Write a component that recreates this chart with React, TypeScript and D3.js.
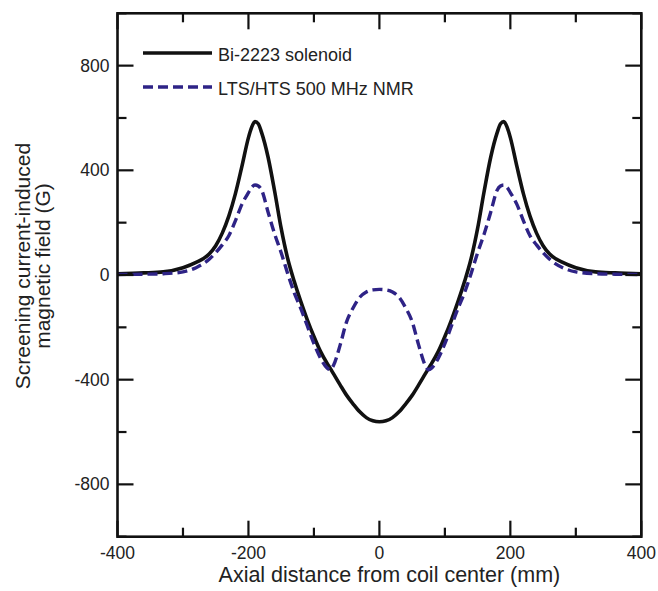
import React from 'react';
import * as d3 from 'd3';

// axial positions (mm) shared by both curves
const axialPositions = [
  -400, -360, -330, -300, -280, -260, -250, -240, -230, -220, -210, -200, -195, -190, -185, -180, -170,
  -160, -150, -140, -130, -120, -110, -100, -90, -80, -75, -70, -60, -50, -40, -30, -20, -10,
  0,
  10, 20, 30, 40, 50, 60, 70, 75, 80, 90, 100, 110, 120, 130, 140, 150, 160,
  170, 180, 185, 190, 195, 200, 210, 220, 230, 240, 250, 260, 280, 300, 330, 360, 400,
];

// Bi-2223 solenoid (G)
const bi2223 = [
  5, 8, 12, 28, 48, 80, 112, 160, 225, 310, 415, 525, 565, 586, 578, 545, 450,
  320, 178, 62, -25, -102, -172, -235, -292, -337, -357, -378, -420, -460, -493, -523, -545, -557,
  -561,
  -557, -545, -523, -493, -460, -420, -378, -357, -337, -292, -235, -172, -102, -25, 62, 178, 320,
  450, 545, 578, 586, 565, 525, 415, 310, 225, 160, 112, 80, 48, 28, 12, 8, 5,
];

// LTS/HTS 500 MHz NMR (G)
const ltsHts = [
  2, 3, 5, 12, 28, 60, 85, 115, 150, 207, 270, 315, 335, 344, 340, 325, 240,
  157, 85, 5, -68, -128, -195, -262, -318, -355, -362, -345, -268, -178, -125, -85, -65, -57,
  -55,
  -57, -65, -85, -125, -178, -268, -345, -362, -355, -318, -262, -195, -128, -68, 5, 85, 157,
  240, 325, 340, 344, 335, 315, 270, 207, 150, 115, 85, 60, 28, 12, 5, 3, 2,
];

const xTicks = [-400, -200, 0, 200, 400];
const xMinorTicks = [-300, -100, 100, 300];
const yTicks = [-800, -400, 0, 400, 800];
const yMinorTicks = [-1000, -600, -200, 200, 600, 1000];

const seriesNames = ['Bi-2223 solenoid', 'LTS/HTS 500 MHz NMR'];

const W = 658;
const H = 591;
const left = 117.5;
const right = 641.3;
const top = 13.3;
const bottom = 536.7;
const blue = '#2e2386';
const font = 'Arial, "Liberation Sans", Helvetica, sans-serif';

const App = () => {
  const x = d3.scaleLinear().domain([-400, 400]).range([left, right]);
  const y = d3.scaleLinear().domain([-1000, 1000]).range([bottom, top]);

  const line = (vals: number[]) =>
    d3
      .line<number>()
      .x((_, i) => x(axialPositions[i]))
      .y((d) => y(d))
      .curve(d3.curveMonotoneX)(vals) || '';

  const major = 16;
  const minor = 9;

  return (
    <svg width={W} height={H} style={{ position: 'absolute', left: 0, top: 0, background: '#fff' }}>
      <defs>
        <clipPath id="plot">
          <rect x={left} y={top} width={right - left} height={bottom - top} />
        </clipPath>
      </defs>

      <g clipPath="url(#plot)" fill="none" strokeLinejoin="round">
        <path d={line(bi2223)} stroke="#111" strokeWidth={3.6} />
        <path d={line(ltsHts)} stroke={blue} strokeWidth={3.4} strokeDasharray="10 5" />
      </g>

      {/* ticks, inward on all four sides */}
      <g stroke="#111" strokeWidth={2.2}>
        {xTicks.map((t) => (
          <g key={'xt' + t}>
            <line x1={x(t)} x2={x(t)} y1={bottom} y2={bottom - major} />
            <line x1={x(t)} x2={x(t)} y1={top} y2={top + major} />
          </g>
        ))}
        {xMinorTicks.map((t) => (
          <g key={'xm' + t}>
            <line x1={x(t)} x2={x(t)} y1={bottom} y2={bottom - minor} />
            <line x1={x(t)} x2={x(t)} y1={top} y2={top + minor} />
          </g>
        ))}
        {yTicks.map((t) => (
          <g key={'yt' + t}>
            <line x1={left} x2={left + major} y1={y(t)} y2={y(t)} />
            <line x1={right} x2={right - major} y1={y(t)} y2={y(t)} />
          </g>
        ))}
        {yMinorTicks.map((t) => (
          <g key={'ym' + t}>
            <line x1={left} x2={left + minor} y1={y(t)} y2={y(t)} />
            <line x1={right} x2={right - minor} y1={y(t)} y2={y(t)} />
          </g>
        ))}
      </g>

      <rect x={left} y={top} width={right - left} height={bottom - top} fill="none" stroke="#111" strokeWidth={2.6} />

      <g fontFamily={font} fontSize={17.5} fill="#222">
        {xTicks.map((t) => (
          <text key={'xl' + t} x={x(t)} y={bottom + 22} textAnchor="middle">
            {t}
          </text>
        ))}
        {yTicks.map((t) => (
          <text key={'yl' + t} x={left - 8} y={y(t) + 6} textAnchor="end">
            {t}
          </text>
        ))}
      </g>

      <text x={x(0) + 10} y={582} textAnchor="middle" fontFamily={font} fontSize={21.5} fill="#222">
        Axial distance from coil center (mm)
      </text>
      <g transform="translate(30,266) rotate(-90)" fontFamily={font} fontSize={21} fill="#222" textAnchor="middle">
        <text x={0} y={0}>Screening current-induced</text>
        <text x={0} y={20}>magnetic field (G)</text>
      </g>

      {/* legend */}
      <g fontFamily={font} fontSize={18} fill="#222">
        <line x1={143} x2={212} y1={53} y2={53} stroke="#111" strokeWidth={3.6} />
        <text x={218} y={60.5}>{seriesNames[0]}</text>
        <line x1={143} x2={212} y1={87} y2={87} stroke={blue} strokeWidth={3.4} strokeDasharray="10 5" />
        <text x={218} y={94.5}>{seriesNames[1]}</text>
      </g>
    </svg>
  );
};

export default App;
